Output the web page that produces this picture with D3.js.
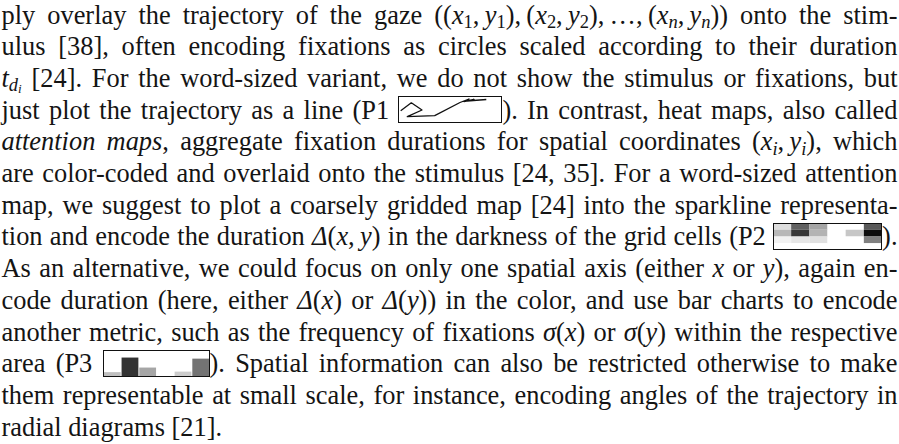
<!DOCTYPE html>
<meta charset="utf-8">
<style>
  body { margin: 0; background: #fff; }
  svg text { font-family: "Liberation Serif", "Times New Roman", serif; fill: #141414; }
</style>
<script src="https://d3js.org/d3.v7.min.js"></script>
<div id="page"></div>
<script>

// P1: gaze trajectory, stimulus coordinates (1040 x 270)
var gazeX = [27, 133, 240, 93, 367, 620, 710, 660, 760, 690, 883];
var gazeY = [147, 68, 140, 207, 197, 65, 30, 55, 35, 50, 35];

// P2: attention map, darkness of each grid cell
var heatCols = ["c1", "c2", "c3", "c4", "c5", "c6"];
var heatRows = ["r1", "r2", "r3", "r4"];
var heatValues = [
  [0.13, 0.62, 0.35, 0, 0,    0.65],
  [0.28, 0.78, 0.30, 0, 0.22, 0.95],
  [0.05, 0.10, 0.12, 0, 0,    0.50],
  [0,    0,    0,    0, 0,    0]
];

// P3: one spatial axis, bar height = frequency, colour = duration
var barCols = ["c1", "c2", "c3", "c4", "c5", "c6"];
var barFreq = [0.18, 0.72, 0.35, 0, 0.2, 0.68];
var barDur  = [0.25, 0.80, 0.35, 0, 0.2, 0.55];

// the paragraph, {i:..} italic, {s:..} subscript, {si:..} italic subscript, {Pn} sparkline
var lines = [
  "ply overlay the trajectory of the gaze (({i:x}{s:1},\u2009{i:y}{s:1}),\u2009({i:x}{s:2},\u2009{i:y}{s:2}),\u2009…,\u2009({i:x}{si:n},\u2009{i:y}{si:n})) onto the stim-",
  "ulus [38], often encoding fixations as circles scaled according to their duration",
  "{i:t}{si:d}{ssi:i} [24]. For the word-sized variant, we do not show the stimulus or fixations, but",
  "just plot the trajectory as a line (P1 {P1}). In contrast, heat maps, also called",
  "{i:attention} {i:maps}, aggregate fixation durations for spatial coordinates ({i:x}{si:i},\u2009{i:y}{si:i}), which",
  "are color-coded and overlaid onto the stimulus [24, 35]. For a word-sized attention",
  "map, we suggest to plot a coarsely gridded map [24] into the sparkline representa-",
  "tion and encode the duration {i:Δ}({i:x},\u2009{i:y}) in the darkness of the grid cells (P2 {P2}).",
  "As an alternative, we could focus on only one spatial axis (either {i:x} or {i:y}), again en-",
  "code duration (here, either {i:Δ}({i:x}) or {i:Δ}({i:y})) in the color, and use bar charts to encode",
  "another metric, such as the frequency of fixations {i:σ}({i:x}) or {i:σ}({i:y}) within the respective",
  "area (P3 {P3}). Spatial information can also be restricted otherwise to make",
  "them representable at small scale, for instance, encoding angles of the trajectory in",
  "radial diagrams [21]."
];

var fontSize = 26.4;
var x0 = 1.5, x1 = 897.5;
var lineTop = 23.5, lineStep = 31.7;
var boxW = {P1: 104, P2: 109, P3: 107}, boxH = 27, boxUp = 22.5;
var spaceW = fontSize * 0.25;

var styles = {
  n:   {italic: false, size: 1,   shift: 0},
  i:   {italic: true,  size: 1,   shift: 0},
  s:   {italic: false, size: 0.7, shift: 4.2},
  si:  {italic: true,  size: 0.7, shift: 4.2},
  ssi: {italic: true,  size: 0.5, shift: 6.5}
};

var svg = d3.select("#page").append("svg")
    .attr("width", 899)
    .attr("height", 444);

var shade = d3.scaleLinear().domain([0, 1]).range(["#ffffff", "#000000"]);

function parse(word) {
  var re = /\{(\w+):([^}]*)\}|\{(P\d)\}|[^{]+/g, m, out = [];
  while ((m = re.exec(word))) {
    if (m[3]) out.push({box: m[3]});
    else if (m[1]) out.push({t: m[2], st: m[1]});
    else out.push({t: m[0], st: "n"});
  }
  return out;
}

function drawRun(g, segs) {
  var t = g.append("text").attr("x", 0).attr("y", 0);
  var cur = 0;
  segs.forEach(function(s) {
    var st = styles[s.st];
    t.append("tspan")
      .attr("dy", st.shift - cur)
      .style("font-style", st.italic ? "italic" : "normal")
      .style("font-size", (fontSize * st.size) + "px")
      .text(s.t);
    cur = st.shift;
  });
  return t;
}

function drawP1(g, w, h) {
  var x = d3.scaleLinear().domain([0, 1040]).range([0, w]);
  var y = d3.scaleLinear().domain([0, 270]).range([0, h]);
  g.append("path")
    .datum(d3.range(gazeX.length))
    .attr("d", d3.line().x(function(i) { return x(gazeX[i]); }).y(function(i) { return y(gazeY[i]); }))
    .attr("fill", "none")
    .attr("stroke", "#111")
    .attr("stroke-width", 1.3)
    .attr("stroke-linejoin", "round");
}

function drawP2(g, w, h) {
  var x = d3.scaleBand().domain(heatCols).range([0, w]);
  var y = d3.scaleBand().domain(heatRows).range([0, h]);
  heatRows.forEach(function(r, ri) {
    g.selectAll(null)
      .data(heatValues[ri])
      .enter()
      .append("rect")
        .attr("x", function(d, ci) { return x(heatCols[ci]); })
        .attr("y", y(r))
        .attr("width", x.bandwidth())
        .attr("height", y.bandwidth())
        .attr("fill", function(d) { return shade(d); });
  });
}

function drawP3(g, w, h) {
  var x = d3.scaleBand().domain(barCols).range([0, w]).padding(0.05);
  var y = d3.scaleLinear().domain([0, 1]).range([h, 0]);
  g.selectAll(null)
    .data(barFreq)
    .enter()
    .append("rect")
      .attr("x", function(d, i) { return x(barCols[i]); })
      .attr("y", function(d) { return y(d); })
      .attr("width", x.bandwidth())
      .attr("height", function(d) { return h - y(d); })
      .attr("fill", function(d, i) { return shade(barDur[i]); });
}

var sparkDraw = {P1: drawP1, P2: drawP2, P3: drawP3};

lines.forEach(function(line, li) {
  var base = lineTop + li * lineStep;
  var g = svg.append("g").attr("transform", "translate(0," + base + ")");
  var items = [];

  line.split(" ").forEach(function(word, wi) {
    var toks = parse(word), run = [], first = true;
    function flush() {
      if (!run.length) return;
      var t = drawRun(g, run);
      items.push({node: t, w: t.node().getComputedTextLength(), space: first && wi > 0});
      first = false;
      run = [];
    }
    toks.forEach(function(tk) {
      if (tk.box) {
        flush();
        items.push({box: tk.box, w: boxW[tk.box], space: first && wi > 0});
        first = false;
      } else {
        run.push(tk);
      }
    });
    flush();
  });

  var total = d3.sum(items, function(d) { return d.w; });
  var nSpaces = items.filter(function(d) { return d.space; }).length;
  var last = li === lines.length - 1;
  var gap = last ? spaceW : (x1 - x0 - total) / nSpaces;

  var cx = x0;
  items.forEach(function(it) {
    if (it.space) cx += gap;
    if (it.box) {
      var bx = Math.round(cx);
      var by = Math.round(base - boxUp);
      var bg = svg.append("g").attr("transform", "translate(" + bx + "," + by + ")");
      sparkDraw[it.box](bg, it.w, boxH);
      bg.append("rect")
        .attr("x", 0.5)
        .attr("y", 0.5)
        .attr("width", it.w - 1)
        .attr("height", boxH - 1)
        .attr("fill", "none")
        .attr("stroke", "#111")
        .attr("stroke-width", 1);
    } else {
      it.node.attr("x", cx);
    }
    cx += it.w;
  });
});

</script>
